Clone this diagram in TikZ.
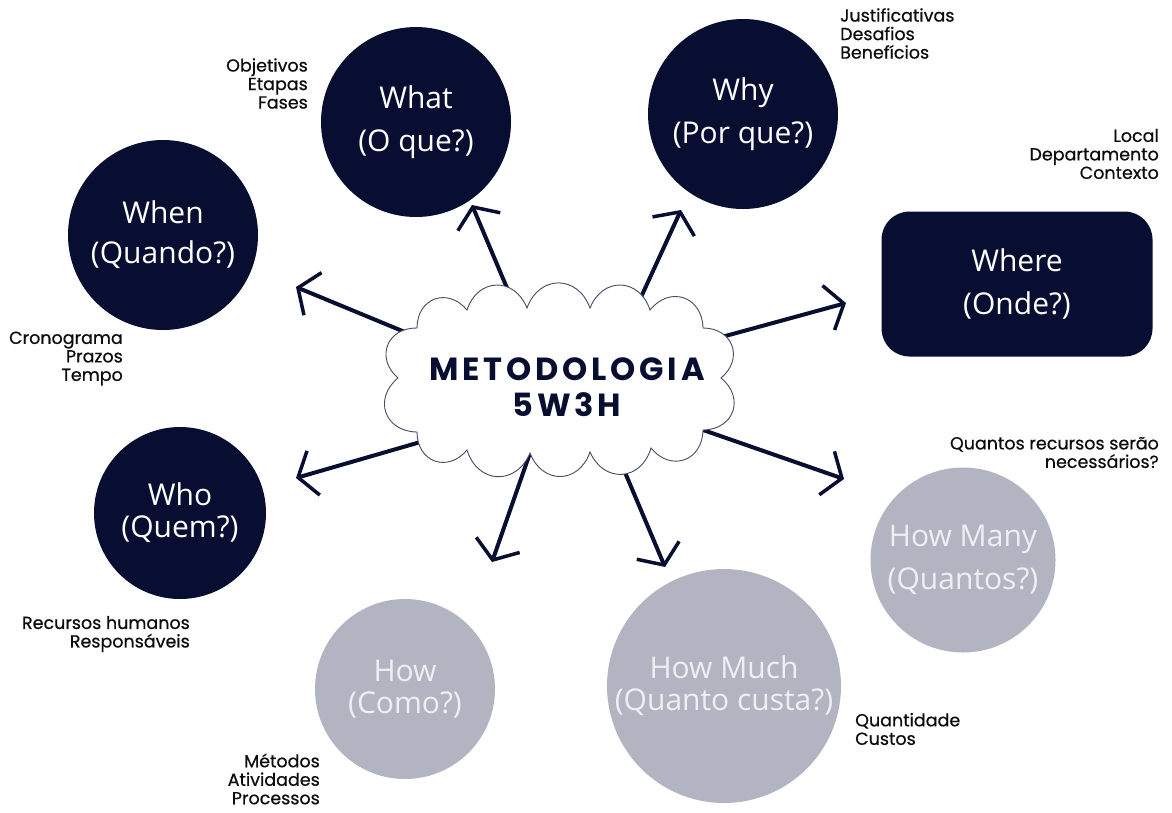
\documentclass[tikz,border=0pt]{standalone}
\usepackage{fontspec}
\setmainfont{Open Sans}
\newfontfamily\lblfont[FakeBold=0.6]{Poppins}
\newfontfamily\ttlfont[LetterSpace=12]{Poppins}
\usetikzlibrary{arrows.meta}
\definecolor{cNavy}{RGB}{7,14,49}
\definecolor{cGrey}{RGB}{178,181,193}
\definecolor{cPale}{RGB}{238,239,243}
\definecolor{cPuff}{RGB}{70,74,100}
\definecolor{cInk} {RGB}{12,12,14}
\tikzset{
  >={Straight Barb[length=16pt,width=46pt,line width=3.5pt]},
  ask/.style={circle,fill=cNavy,text=white,inner sep=0pt,align=center,
              font=\fontsize{30}{43}\selectfont},        % dark question
  askG/.style={ask,fill=cGrey,text=cPale},                % grey question
  tight/.style={font=\fontsize{30}{32}\selectfont},
  note/.style={inner sep=0pt,text=cInk,font=\lblfont\fontsize{17.5}{18.5}\selectfont},
  spoke/.style={->,cNavy,line width=4pt,line cap=round,shorten <=-6pt},
  puff/.style={bend left=70,looseness=1.45},
  puffline/.style={draw=cPuff,fill=white,line width=0.9pt},
  title/.style={inner sep=0pt,align=center,text=cNavy,
                font=\ttlfont\bfseries\fontsize{32}{36}\selectfont},
}
\begin{document}
\begin{tikzpicture}[x=1pt,y=-1pt]
  \useasboundingbox (0,0) rectangle (1172,812);
  % spokes (tail on the cloud, tip near the question)
  \coordinate (sWhat) at (507,288); \coordinate (eWhat) at (472,205);
  \coordinate (sWhy)  at (642,295); \coordinate (eWhy)  at (681,210);
  \coordinate (sWhen) at (400,330); \coordinate (eWhen) at (296,287);
  \coordinate (sWhere)at (729,335); \coordinate (eWhere)at (846,303);
  \coordinate (sWho)  at (417,443); \coordinate (eWho)  at (296,478);
  \coordinate (sHow)  at (530,453); \coordinate (eHow)  at (492,562);
  \coordinate (sMuch) at (624,470); \coordinate (eMuch) at (665,567);
  \coordinate (sMany) at (706,431); \coordinate (eMany) at (844,479);
  \foreach \s/\e in {sWhat/eWhat,sWhy/eWhy,sWhen/eWhen,sWhere/eWhere,
                     sWho/eWho,sHow/eHow,sMuch/eMuch,sMany/eMany}
    \draw[spoke] (\s) -- (\e);
  % cloud
  \draw[puffline] (417,328) to[puff] (467,310) to[puff] (527,308) to[puff] (590,308)
    to[puff] (650,310) to[puff] (703,328) to[puff] (721,378) to[puff] (703,430)
    to[puff] (651,448) to[puff] (590,452) to[puff] (530,453) to[puff] (467,450)
    to[puff] (417,432) to[puff] (398,378) to[puff] (417,328);
  \node[title] (cloud) at (567,387) {METODOLOGIA\\5W3H};
  % questions
  \node[ask,minimum size=190pt] (what) at (416,122) {What\\(O que?)};
  \node[ask,minimum size=190pt] (why)  at (743,114) {Why\\(Por que?)};
  \node[ask,minimum size=190pt,font=\fontsize{30}{40}\selectfont] (when) at (163,235) {When\\(Quando?)};
  \node[ask,rectangle,rounded corners=28pt,minimum width=271pt,minimum height=145pt]
    (where) at (1017,284) {Where\\(Onde?)};
  \node[ask,tight,minimum size=172pt]  (who)  at (180,513) {Who\\(Quem?)};
  \node[askG,tight,minimum size=180pt] (how)  at (405,689) {How\\(Como?)};
  \node[askG,tight,minimum size=234pt] (much) at (724,686) {How Much\\(Quanto custa?)};
  \node[askG,minimum size=185pt]       (many) at (963,560) {How Many\\(Quantos?)};
  % notes
  \node[note,anchor=east,align=right] (nWhat)  at (308,83.5)  {Objetivos\\Etapas\\Fases};
  \node[note,anchor=west,align=left]  (nWhy)   at (840,33.5)  {Justificativas\\Desafios\\Benefícios};
  \node[note,anchor=east,align=right] (nWhere) at (1159,154)  {Local\\Departamento\\Contexto};
  \node[note,anchor=east,align=right] (nWhen)  at (123,358.5) {Cronograma\\Prazos\\Tempo};
  \node[note,anchor=east,align=right] (nMany)  at (1159,452.5){Quantos recursos serão\\necessários?};
  \node[note,anchor=east,align=right] (nWho)   at (190,634)   {Recursos humanos\\Responsáveis};
  \node[note,anchor=east,align=right] (nHow)   at (320,779)   {Métodos\\Atividades\\Processos};
  \node[note,anchor=west,align=left]  (nMuch)  at (855,729)   {Quantidade\\Custos};
\end{tikzpicture}
\end{document}
